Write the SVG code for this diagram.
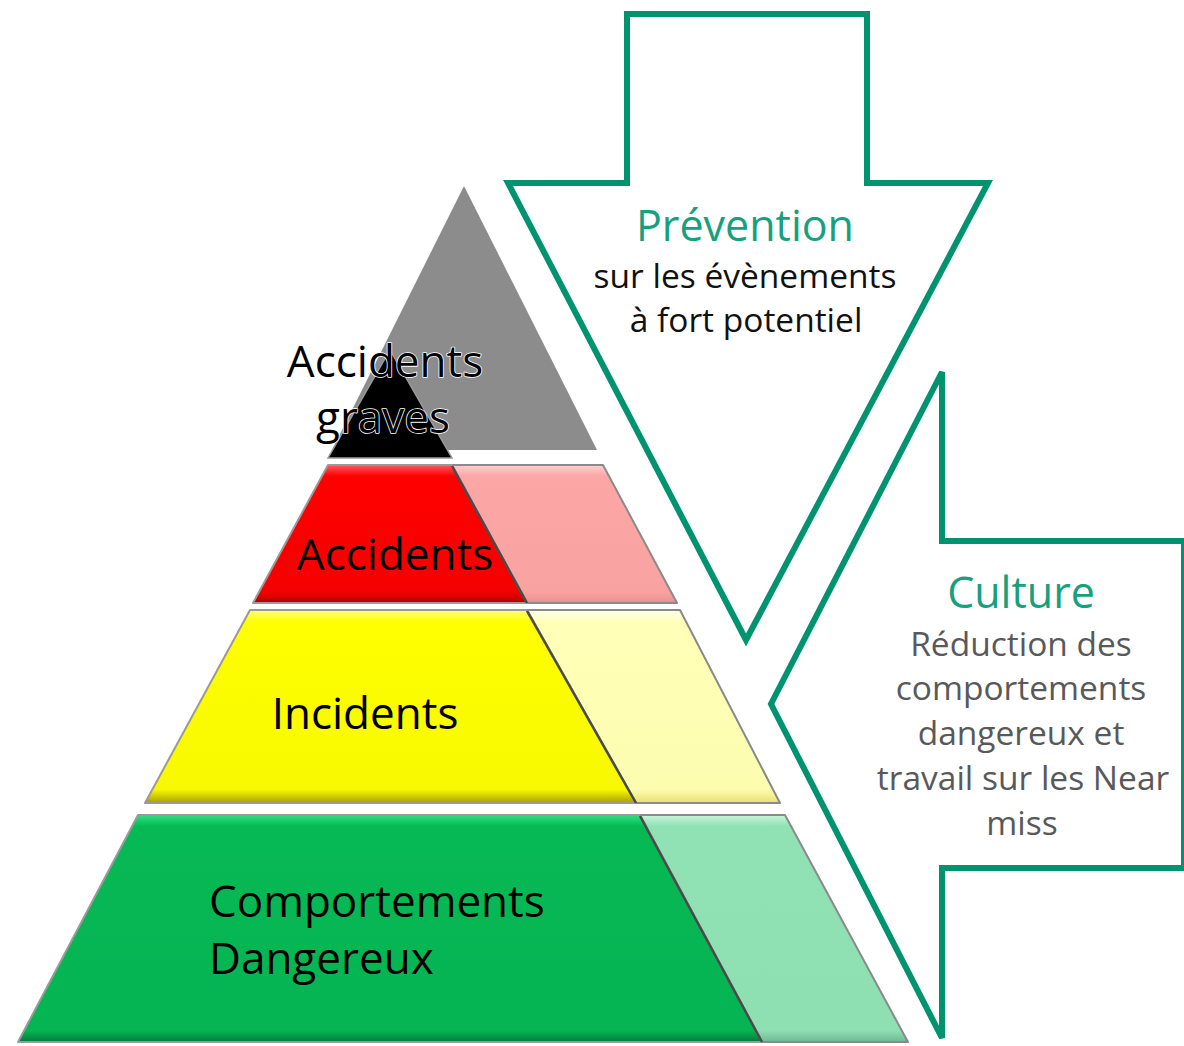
<svg xmlns="http://www.w3.org/2000/svg" width="1184" height="1046" viewBox="0 0 1184 1046">
<style>
.lbl{font-family:"Open Sans","Noto Sans","DejaVu Sans",sans-serif;font-size:44px;fill:#000;}
.halo{stroke:#fff;stroke-width:1.6;paint-order:stroke;stroke-linejoin:round;}
.arrow{fill:#fff;stroke:#00936F;stroke-width:6;stroke-linejoin:miter;}
.ttl{font-family:"Open Sans","Noto Sans","DejaVu Sans",sans-serif;font-size:43px;fill:#17A07E;text-anchor:middle;}
.sub{font-family:"Open Sans","Noto Sans","DejaVu Sans",sans-serif;font-size:33.5px;fill:#111;text-anchor:middle;}
.sub2{font-family:"Open Sans","Noto Sans","DejaVu Sans",sans-serif;font-size:33.5px;fill:#595959;text-anchor:middle;}
.face{stroke:#9a9a9a;stroke-width:2;stroke-linejoin:round;}
.side{stroke:#8a8a8a;stroke-width:2;stroke-linejoin:round;}
.diag{stroke:#4a4a4a;stroke-width:2.5;fill:none;}
</style>
<defs>
<linearGradient id="gRed" x1="0" y1="0" x2="0" y2="1">
<stop offset="0" stop-color="#ff5a5a"/><stop offset="0.08" stop-color="#ff0000"/><stop offset="0.92" stop-color="#f50000"/><stop offset="1" stop-color="#b00000"/>
</linearGradient>
<linearGradient id="gPink" x1="0" y1="0" x2="0" y2="1">
<stop offset="0" stop-color="#ffd0d0"/><stop offset="0.08" stop-color="#fca6a6"/><stop offset="0.92" stop-color="#f9a2a2"/><stop offset="1" stop-color="#e89090"/>
</linearGradient>
<linearGradient id="gYel" x1="0" y1="0" x2="0" y2="1">
<stop offset="0" stop-color="#ffff80"/><stop offset="0.06" stop-color="#ffff00"/><stop offset="0.93" stop-color="#f8f800"/><stop offset="1" stop-color="#a8a000"/>
</linearGradient>
<linearGradient id="gPYel" x1="0" y1="0" x2="0" y2="1">
<stop offset="0" stop-color="#fffff0"/><stop offset="0.06" stop-color="#ffffb8"/><stop offset="0.93" stop-color="#fdfdb0"/><stop offset="1" stop-color="#e8e070"/>
</linearGradient>
<linearGradient id="gGrn" x1="0" y1="0" x2="0" y2="1">
<stop offset="0" stop-color="#30e080"/><stop offset="0.05" stop-color="#07b955"/><stop offset="0.95" stop-color="#05b452"/><stop offset="1" stop-color="#047a3a"/>
</linearGradient>
<linearGradient id="gPGrn" x1="0" y1="0" x2="0" y2="1">
<stop offset="0" stop-color="#c8f5dc"/><stop offset="0.05" stop-color="#90e1b4"/><stop offset="0.95" stop-color="#8edfb2"/><stop offset="1" stop-color="#70b890"/>
</linearGradient>
</defs>
<rect width="1184" height="1046" fill="#fff"/>

<g id="arrow-prevention">
<polygon class="arrow" points="627,14 867,14 867,183 988,183 746,640 508,183 627,183"/>
<text class="ttl" x="745" y="241">Prévention</text>
<text class="sub" x="745" y="288">sur les évènements</text>
<text class="sub" x="746" y="332">à fort potentiel</text>
</g>

<g id="arrow-culture">
<polygon class="arrow" points="942,372 942,541 1184,541 1184,868 942,868 942,1038 771,704"/>
<text class="ttl" x="1021" y="608">Culture</text>
<text class="sub2" x="1021" y="656">Réduction des</text>
<text class="sub2" x="1021" y="700">comportements</text>
<text class="sub2" x="1021" y="745">dangereux et</text>
<text class="sub2" x="1023" y="790">travail sur les Near</text>
<text class="sub2" x="1022" y="835">miss</text>
</g>

<g id="tier-accidents-graves">
<polygon points="464,186 597,450 332,450" fill="#8c8c8c"/>
<polygon points="390,350 452,458 328,458" fill="#000" stroke="#9a9a9a" stroke-width="1.5"/>
<text class="lbl halo" x="385" y="377" text-anchor="middle">Accidents</text>
<text class="lbl halo" x="383" y="433" text-anchor="middle">graves</text>
</g>

<g id="tier-accidents">
<polygon class="side" points="452,465 603,465 677,603 527,603" fill="url(#gPink)"/>
<polygon class="face" points="328,465 452,465 527,603 253,603" fill="url(#gRed)"/>
<line class="diag" x1="452" y1="466" x2="527" y2="603"/>
<text class="lbl" x="395" y="570" text-anchor="middle">Accidents</text>
</g>

<g id="tier-incidents">
<polygon class="side" points="527,610 680,610 780,803 636,803" fill="url(#gPYel)"/>
<polygon class="face" points="250,610 527,610 636,803 145,803" fill="url(#gYel)"/>
<line class="diag" x1="527" y1="611" x2="636" y2="803"/>
<text class="lbl" x="365" y="729" text-anchor="middle">Incidents</text>
</g>

<g id="tier-comportements">
<polygon class="side" points="640,815 785,815 908,1042 762,1042" fill="url(#gPGrn)"/>
<polygon class="face" points="138,815 640,815 762,1042 18,1042" fill="url(#gGrn)"/>
<line class="diag" x1="640" y1="816" x2="762" y2="1042"/>
<text class="lbl" x="209" y="917">Comportements</text>
<text class="lbl" x="209" y="974">Dangereux</text>
</g>

<g id="connectors"/>
</svg>
